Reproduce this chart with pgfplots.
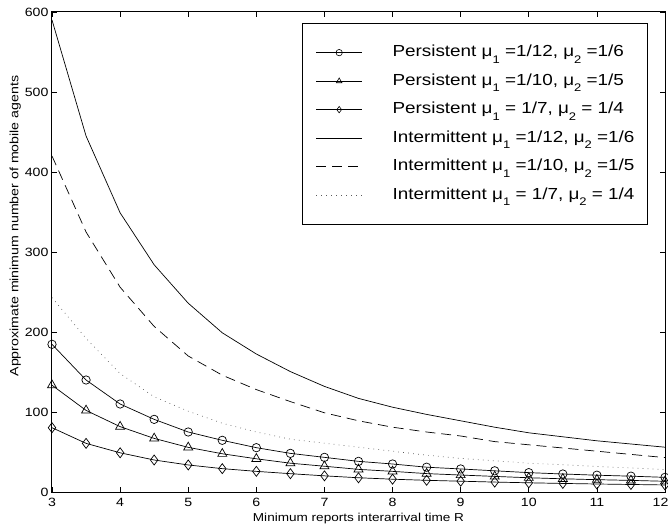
\documentclass[border=0pt]{standalone}
\usepackage{fontspec}
\setmainfont{Liberation Sans}[FakeStretch=1.18]
\usepackage{pgfplots}
\pgfplotsset{compat=1.18}

\newcommand{\sub}[1]{\raisebox{-0.42em}{\fontsize{11}{11}\selectfont #1}}

\begin{document}
\begin{tikzpicture}
\begin{axis}[
  scale only axis,
  width=613pt, height=480pt,
  xmin=3, xmax=12, ymin=0, ymax=600,
  xtick={3,4,...,12}, ytick={0,100,...,600},
  xticklabels={3,4,5,6,7,8,9,10,11,{\hspace*{-9pt}12}},
  tick align=inside, major tick length=5pt,
  axis line style={line width=1pt},
  tick style={line width=0.6pt, black},
  /pgf/number format/assume math mode=true,
  tick label style={font=\fontsize{12}{12}\selectfont},
  xticklabel style={yshift=-3pt},
  xlabel={Minimum reports interarrival time R},
  ylabel={Approximate minimum number of mobile agents},
  xlabel style={font=\fontsize{11.5}{12}\selectfont, at={(axis description cs:0.5,-0.056)}, anchor=center},
  ylabel style={font=\fontsize{12}{12}\selectfont, at={(axis description cs:-0.06,0.554)}, anchor=center},
  legend cell align=left,
  legend image code/.code={
    \draw[#1, mark=none] (0pt,0pt) -- (46pt,0pt);
    \draw[#1, only marks, mark size=3.2pt, line width=0.6pt] plot coordinates {(23pt,0pt)};},
  legend style={at={(0.9723,0.977)}, anchor=north east, draw=black, line width=1.2pt,
    font=\fontsize{16}{16}\selectfont, inner xsep=13pt, inner ysep=22pt,
    row sep=14.5pt, column sep=30pt,
    nodes={inner sep=0pt, text height=11pt, text depth=3pt}},
  every axis plot/.append style={line width=0.7pt, black},
]
\coordinate (ll) at (rel axis cs:0,0);
\coordinate (ur) at (rel axis cs:1,1);
\addplot[mark=o, mark size=4.2pt] coordinates {
(3,184.6) (3.5,140) (4,110) (4.5,90.8) (5,75) (5.5,64.6) (6,55.4) (6.5,48.3) (7,43.3) (7.5,38.3)
(8,35) (8.5,31) (9,28.8) (9.5,26.5) (10,24.2) (10.5,22.5) (11,21) (11.5,19.8) (12,18.3)};
\addplot[mark=triangle, mark size=5.2pt] coordinates {
(3,133.5) (3.5,102) (4,81.7) (4.5,67) (5,55.8) (5.5,47.8) (6,41.5) (6.5,36) (7,32.2) (7.5,28.3)
(8,25.8) (8.5,23) (9,21.2) (9.5,19.5) (10,17.8) (10.5,16.5) (11,15.4) (11.5,14.5) (12,13.4)};
\addplot[mark=diamond, mark size=5pt] coordinates {
(3,80.4) (3.5,60.8) (4,49) (4.5,40) (5,33.8) (5.5,29.2) (6,25.8) (6.5,22.9) (7,20.2) (7.5,17.8)
(8,16) (8.5,14.6) (9,13.5) (9.5,12.4) (10,11.5) (10.5,10.7) (11,10) (11.5,9.4) (12,8.8)};
\addplot[no marks] coordinates {
(3,590) (3.5,445) (4,349) (4.5,284) (5,236) (5.5,199) (6,172.5) (6.5,150.5) (7,132) (7.5,117)
(8,106) (8.5,97) (9,89) (9.5,81) (10,74) (10.5,69) (11,64) (11.5,60) (12,56)};
\addplot[no marks, dash pattern=on 10pt off 6pt] coordinates {
(3,420) (3.5,325) (4,256) (4.5,207) (5,170) (5.5,146) (6,128) (6.5,113) (7,99) (7.5,89)
(8,81) (8.5,75) (9,70) (9.5,63) (10,59) (10.5,55) (11,51) (11.5,47) (12,43)};
\addplot[no marks, black!65, dash pattern=on 0.7pt off 4.3pt] coordinates {
(3,243) (3.5,192) (4,148) (4.5,119) (5,101) (5.5,86) (6,75) (6.5,66) (7,61) (7.5,56)
(8,51) (8.5,46) (9,42) (9.5,39) (10,36) (10.5,34) (11,32) (11.5,30) (12,28)};
\legend{
{Persistent μ\sub{1} =1/12, μ\sub{2} =1/6},
{Persistent μ\sub{1} =1/10, μ\sub{2} =1/5},
{Persistent μ\sub{1} = 1/7, μ\sub{2} = 1/4},
{Intermittent μ\sub{1} =1/12, μ\sub{2} =1/6},
{Intermittent μ\sub{1} =1/10, μ\sub{2} =1/5},
{Intermittent μ\sub{1} = 1/7, μ\sub{2} = 1/4}}
\end{axis}
\pgfresetboundingbox
\path ([shift={(-52pt,-37pt)}]ll) rectangle ([shift={(3pt,12pt)}]ur);
\end{tikzpicture}
\end{document}
